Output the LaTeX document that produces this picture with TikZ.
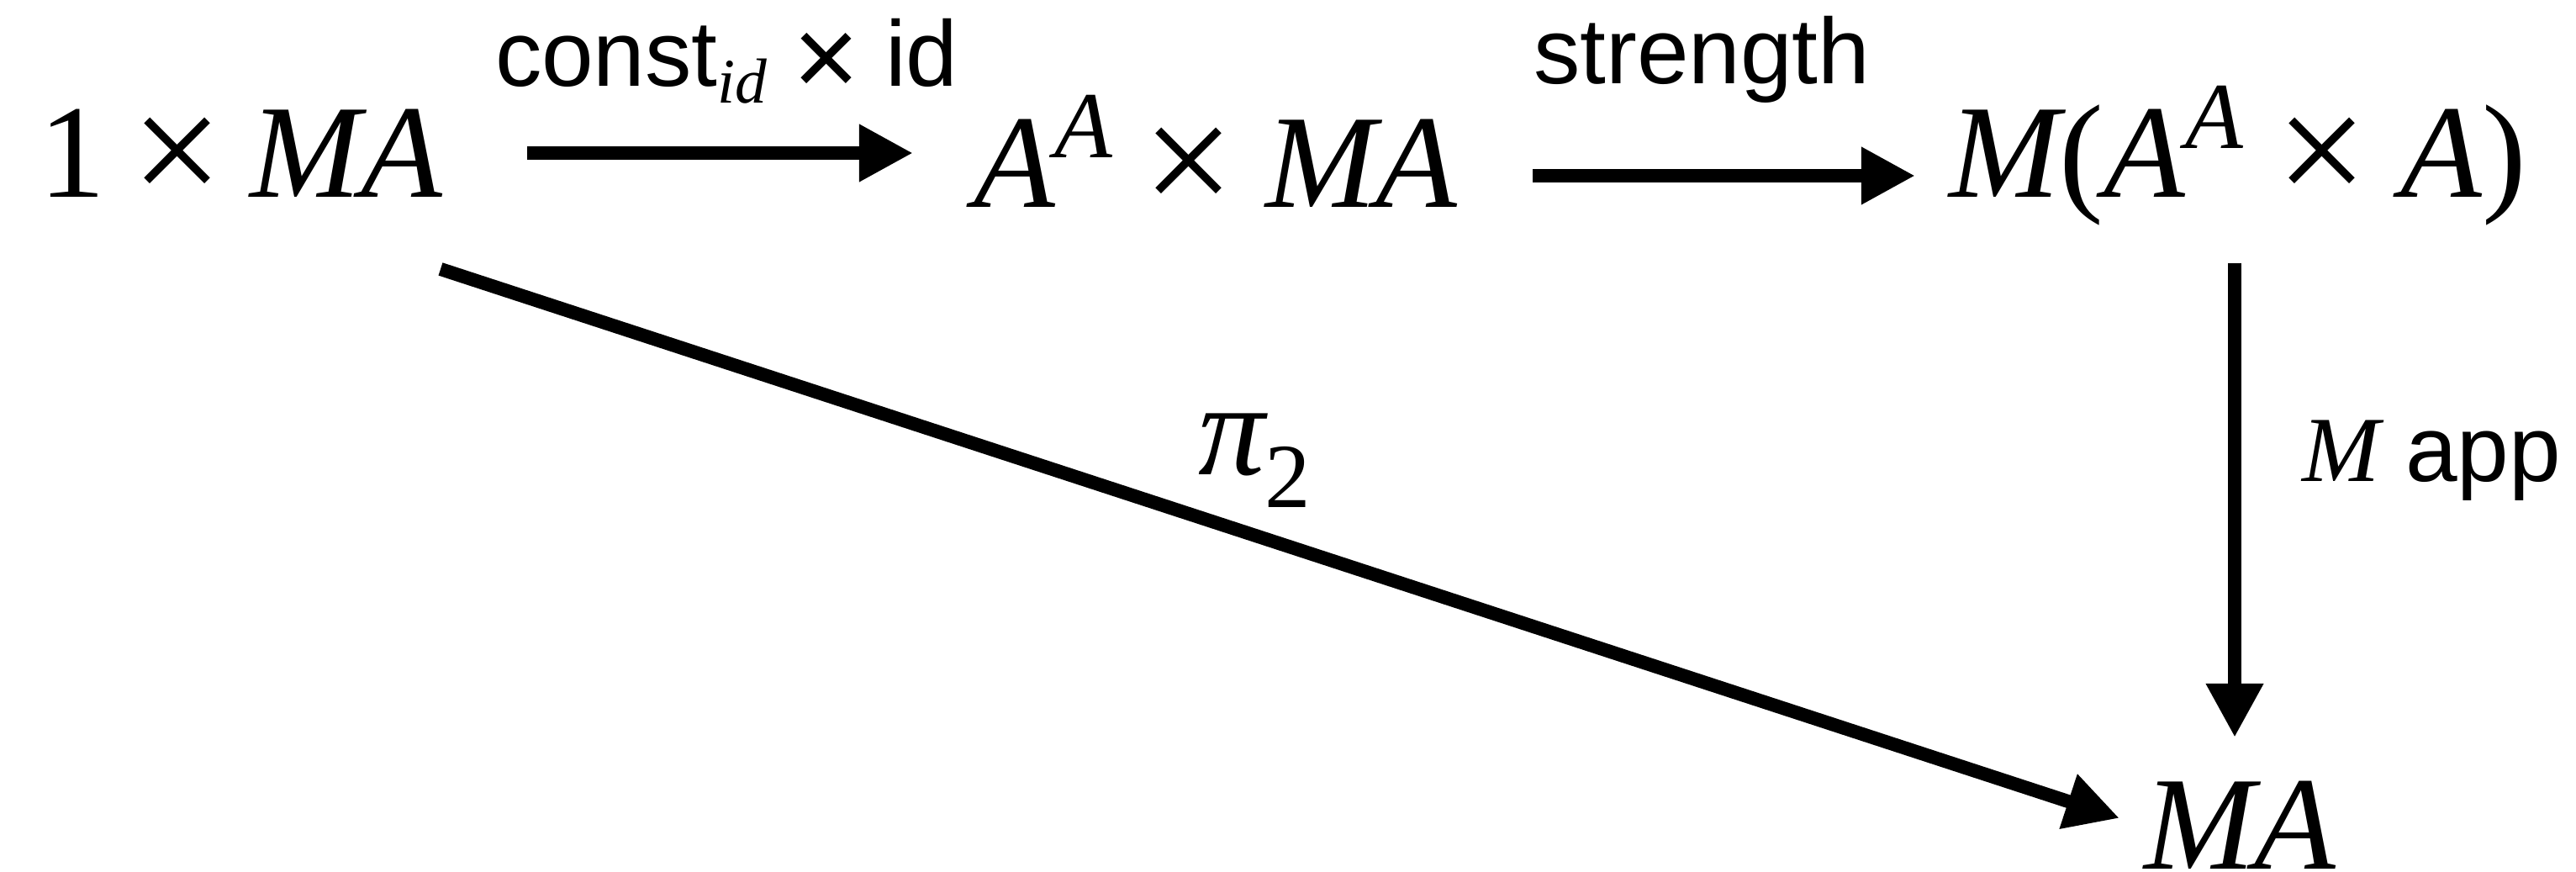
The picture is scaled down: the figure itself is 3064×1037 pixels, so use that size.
\documentclass[tikz,border=0pt]{standalone}
\usepackage{graphicx}
\usepackage{fontspec}
\setmainfont{Liberation Serif}
\setsansfont{Liberation Sans}
\usetikzlibrary{arrows.meta}
\newcommand\bigtimes{\raisebox{-0.09cm}{\scalebox{1.22}{\upshape ×}}}
\newcommand\sanstimes{\raisebox{-0.12cm}{\scalebox{1.22}{×}}}
\newcommand\supA[1]{\raisebox{#1}{\fontsize{32}{36}\selectfont A}}
\begin{document}
\begin{tikzpicture}[x=0.01cm,y=-0.01cm,
  obj/.style={anchor=base west,inner sep=0pt,outer sep=0pt,font=\fontsize{45}{54}\selectfont\itshape},
  lbl/.style={anchor=base west,inner sep=0pt,outer sep=0pt,font=\fontsize{31.5}{36}\selectfont\sffamily},
  arr/.style={line width=0.16cm,-{Triangle[length=0.64cm,width=0.64cm]}}]
\useasboundingbox (0,0) rectangle (3064,1037);
\node[obj] (n1) at (46,235) {\upshape 1\hspace{0.2em}\bigtimes\hspace{0.2em}\itshape MA};
\node[obj] (n2) at (1158,247) {A\supA{0.59cm}\hspace{0.23em}\bigtimes\hspace{0.23em}MA};
\node[obj] (n3) at (2318,235) {M\upshape(\itshape A\supA{0.58cm} \bigtimes{} A\upshape)};
\node[obj] (n4) at (2550,1033) {MA};
\node[lbl] (l1) at (589,103) {const\raisebox{-0.19cm}{\fontsize{21.5}{24}\selectfont\rmfamily\itshape id} \sanstimes{} id};
\node[lbl] (l2) at (1824,100) {strength};
\node[lbl] (l3) at (2738,573) {{\rmfamily\itshape M} app};
\node[obj] (l4) at (1425,565) {π\raisebox{-0.38cm}{\fontsize{31}{36}\selectfont\upshape 2}};
\draw[arr] ([shift={(581,-53)}]n1.base west) -- ([shift={(-72,-65)}]n2.base west);
\draw[arr] ([shift={(665,-38)}]n2.base west) -- ([shift={(-40,-26)}]n3.base west);
\draw[arr] ([shift={(340,78)}]n3.base west) -- ([shift={(108,-156)}]n4.base west);
\draw[arr] ([shift={(478,85)}]n1.base west) -- ([shift={(-29,-60)}]n4.base west);
\end{tikzpicture}
\end{document}
